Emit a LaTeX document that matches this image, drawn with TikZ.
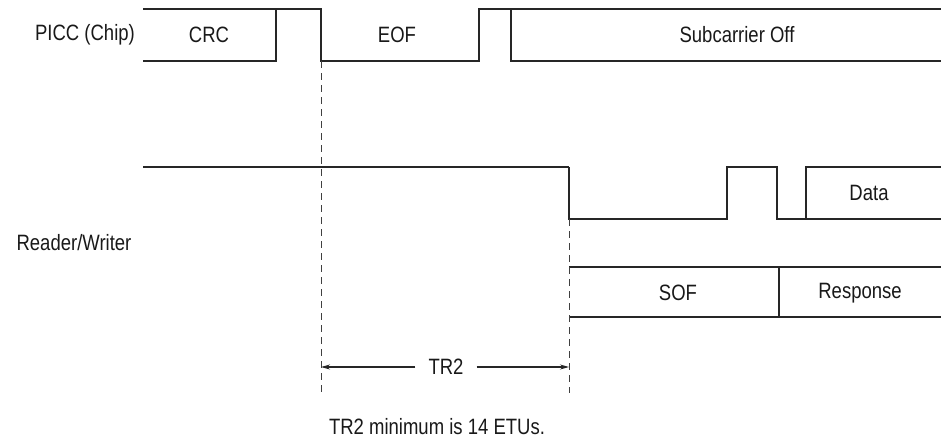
\documentclass[tikz,border=0pt]{standalone}
\usepackage{fontspec}
\setmainfont{Liberation Sans}
\usetikzlibrary{arrows.meta}
\newcommand{\stretchtxt}[1]{\scalebox{1}[1.2]{#1}}
\begin{document}
\begin{tikzpicture}[x=1pt,y=-1pt,
  wave/.style={line width=1.2pt, draw=black!85, line join=miter},
  guide/.style={line width=1pt, dash pattern=on 7pt off 5pt, draw=black!75},
  dim/.style={line width=1.1pt, draw=black!85, -{Stealth[length=9pt,width=5pt]}},
  lbl/.style={font=\fontsize{18.5}{20}\selectfont, text=black!90, inner sep=0pt}]
\useasboundingbox (0,0) rectangle (941,442);
% PICC waveform
\draw[wave] (143,9) -- (321,9) -- (321,61) -- (479,61) -- (479,9) -- (941,9);
\draw[wave] (143,61) -- (276,61) -- (276,9);
\draw[wave] (511,9) -- (511,61) -- (941,61);
% Reader/Writer waveform
\draw[wave, line width=1.7pt] (143,167) -- (569,167);
\draw[wave] (569,167) -- (569,219) -- (727,219) -- (727,167) -- (777,167) -- (777,219) -- (941,219);
\draw[wave] (806,219) -- (806,167) -- (941,167);
% SOF / Response frame
\draw[wave] (941,267) -- (569,267);
\draw[wave] (569,317) -- (941,317);
\draw[wave] (779,267) -- (779,317);
% labels
\node[lbl] (picc) at (85,35) {\stretchtxt{PICC (Chip)}};
\node[lbl] (rw) at (74,243) {\stretchtxt{Reader/Writer}};
\node[lbl] (crc) at (209,35) {\stretchtxt{CRC}};
\node[lbl] (eof) at (397,35) {\stretchtxt{EOF}};
\node[lbl] (suboff) at (737,35) {\stretchtxt{Subcarrier Off}};
\node[lbl] (data) at (869,193) {\stretchtxt{Data}};
\node[lbl] (sof) at (678,293) {\stretchtxt{SOF}};
\node[lbl] (resp) at (860,293) {\stretchtxt{Response}};
\node[lbl, inner xsep=13pt] (tr2) at (446,367) {\stretchtxt{TR2}};
\node[lbl] (note) at (437,427) {\stretchtxt{TR2 minimum is 14 ETUs.}};
% guides
\coordinate (g1top) at (321,61);
\coordinate (g1bot) at (321,393);
\coordinate (g2top) at (569,219);
\coordinate (g2bot) at (569,393);
\coordinate (a1) at (321,367);
\coordinate (a2) at (569,367);
\draw[guide] (g1top) -- (g1bot);
\draw[guide] (g2top) -- (g2bot);
\draw[dim] (tr2.west) -- (a1);
\draw[dim] (tr2.east) -- (a2);
\end{tikzpicture}
\end{document}
